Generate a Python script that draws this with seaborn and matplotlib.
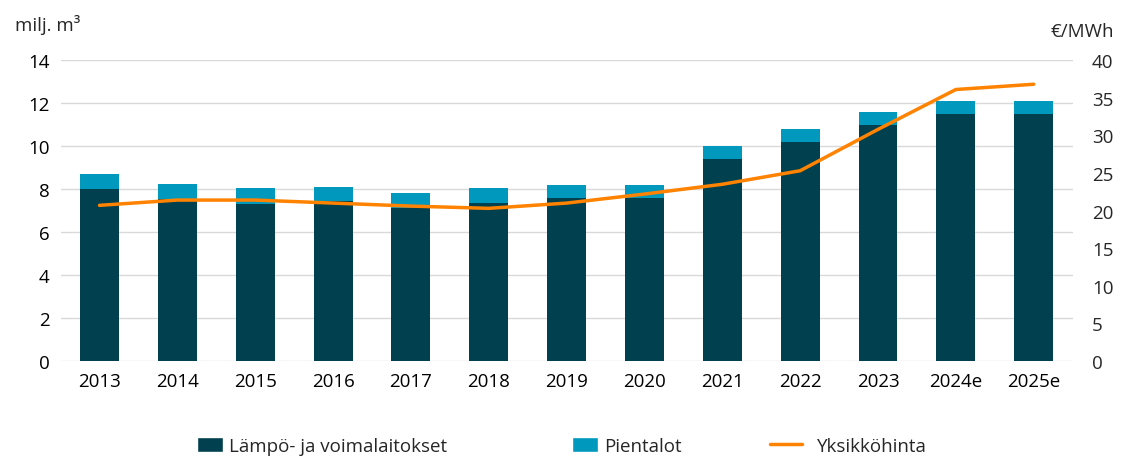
import matplotlib.pyplot as plt
import seaborn as sns
import numpy as np
import pandas as pd
from matplotlib.patches import Patch
from matplotlib.lines import Line2D

years = ['2013', '2014', '2015', '2016', '2017', '2018', '2019',
         '2020', '2021', '2022', '2023', '2024e', '2025e']
plants = [8.0, 7.55, 7.3, 7.45, 7.1, 7.35, 7.6, 7.6, 9.4, 10.2, 11.0, 11.5, 11.5]
houses = [0.7, 0.7, 0.73, 0.65, 0.7, 0.68, 0.6, 0.6, 0.6, 0.6, 0.6, 0.6, 0.6]
price = [20.7, 21.4, 21.4, 21.0, 20.6, 20.3, 21.0, 22.2, 23.5, 25.3, 30.8, 36.1, 36.8]

dark = '#00404F'
light = '#0098BC'
orange = '#FF8200'

df = pd.DataFrame({'year': years, 'plants': plants, 'houses': houses, 'price': price})
df['total'] = df['plants'] + df['houses']
df['pos'] = np.arange(len(df))

sns.set_style('white')
plt.rcParams['font.family'] = ['Open Sans', 'DejaVu Sans']

fig = plt.figure(figsize=(11.22, 4.6), dpi=100)
ax = fig.add_axes([0.054, 0.213, 0.902, 0.654])

# stacked bars: total first, then the bottom part on top of it
sns.barplot(data=df, x='year', y='total', color=light, width=0.5,
            saturation=1, linewidth=0, ax=ax, zorder=2)
sns.barplot(data=df, x='year', y='plants', color=dark, width=0.5,
            saturation=1, linewidth=0, ax=ax, zorder=3)

ax.set_ylim(0, 14)
ax.set_yticks(np.arange(0, 15, 2))
ax.yaxis.grid(True, color='#D9D9D9', linewidth=1)
ax.set_axisbelow(True)
ax.set_xlim(-0.5, len(years) - 0.5)
ax.set_xlabel('')
ax.set_ylabel('')
ax.tick_params(axis='both', length=0, labelsize=13.5, colors='#000000', pad=8)
for s in ax.spines.values():
    s.set_visible(False)

ax2 = ax.twinx()
sns.lineplot(data=df, x='pos', y='price', color=orange, linewidth=2.5, ax=ax2)
ax2.set_ylim(0, 40)
ax2.set_yticks(np.arange(0, 41, 5))
ax2.set_xlim(-0.5, len(years) - 0.5)
ax2.set_ylabel('')
ax2.set_xlabel('')
ax2.grid(False)
ax2.tick_params(axis='y', length=0, labelsize=13.5, pad=14)
for s in ax2.spines.values():
    s.set_visible(False)

fig.text(0.013, 0.945, 'milj. m³', fontsize=13.5, va='center', ha='left')
fig.text(0.993, 0.93, '€/MWh', fontsize=13.5, va='center', ha='right')

# legend entries placed one by one, like the source layout
entries = [
    (Patch(facecolor=dark), 'Lämpö- ja voimalaitokset', 197 / 1122, 1.4, 0.3),
    (Patch(facecolor=light), 'Pientalot', 572 / 1122, 1.4, 0.3),
    (Line2D([], [], color=orange, linewidth=2.5), 'Yksikköhinta', 770 / 1122, 1.7, 0.8),
]
for h, lab, x0, hl, tp in entries:
    fig.legend([h], [lab], loc='center left', bbox_to_anchor=(x0, 0.028),
               frameon=False, fontsize=13.5, handlelength=hl, handleheight=0.8,
               handletextpad=tp, borderpad=0, borderaxespad=0)

fig.savefig('out.png', dpi=100)
